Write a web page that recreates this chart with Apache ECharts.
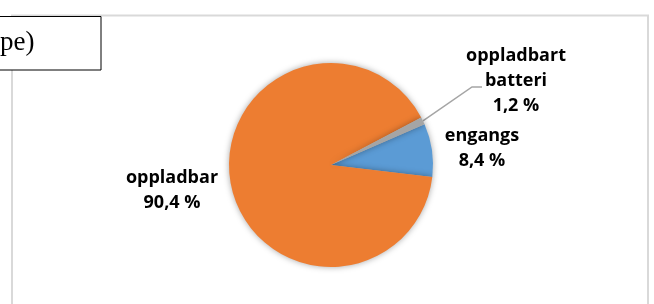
<!DOCTYPE html>
<html>
<head>
<meta charset="utf-8">
<script src="https://cdn.jsdelivr.net/npm/echarts@6/dist/echarts.min.js"></script>
<style>
html,body{margin:0;padding:0;background:#fff;}
#chart{width:654px;height:304px;}
</style>
</head>
<body>
<div id="chart"></div>
<script>
// Data
const categories = ['engangs', 'oppladbar', 'oppladbart batteri'];
const values = [8.4, 90.4, 1.2];
const labelTexts = ['engangs', 'oppladbar', 'oppladbart\nbatteri'];
const colors = ['#5B9BD5', '#ED7D31', '#A5A5A5'];
const titleFragment = 'pe)';

function fmt(v) { return v.toFixed(1).replace('.', ',') + ' %'; }

const labelPos = [
  { x: 482, y: 148 },
  { x: 172, y: 190 },
  { x: 516, y: 81 }
];

const chart = echarts.init(document.getElementById('chart'), null, { renderer: 'canvas' });
chart.setOption({
  animation: false,
  graphic: [
    { type: 'rect', z: 0, shape: { x: 12, y: 15.5, width: 636, height: 320 },
      style: { fill: '#fff', stroke: '#d9d9d9', lineWidth: 2 } },
    { type: 'rect', z: 10, shape: { x: -1, y: 16.5, width: 102, height: 53.5 },
      style: { fill: '#fff', stroke: '#000', lineWidth: 1 } },
    { type: 'text', z: 11, style: { text: titleFragment, x: 0, y: 43, fill: '#000',
      font: '27px "Liberation Serif", "Times New Roman", serif', align: 'left', verticalAlign: 'middle' } }
  ],
  series: [{
    type: 'pie',
    center: [331, 165],
    radius: 102,
    startAngle: 23.5,
    clockwise: true,
    z: 5,
    itemStyle: { shadowBlur: 6, shadowColor: 'rgba(0,0,0,0.35)', shadowOffsetX: 0, shadowOffsetY: 0 },
    label: {
      show: true,
      position: 'outside',
      color: '#000',
      fontFamily: '"Open Sans", sans-serif',
      fontWeight: 'bold',
      fontSize: 18,
      lineHeight: 25,
      align: 'center',
      formatter: p => labelTexts[p.dataIndex] + '\n' + fmt(p.value)
    },
    labelLine: { show: false },
    labelLayout: function (params) {
      const i = params.dataIndex;
      const o = { x: labelPos[i].x, y: labelPos[i].y, align: 'center', verticalAlign: 'middle' };
      if (i === 2 && params.labelLinePoints) {
        o.labelLinePoints = [params.labelLinePoints[0], [472, 87], [482, 87]];
      }
      return o;
    },
    emphasis: { disabled: true },
    data: categories.map((c, i) => ({
      name: c,
      value: values[i],
      itemStyle: { color: colors[i] },
      labelLine: i === 2 ? { show: true, lineStyle: { color: '#A5A5A5', width: 1.5 } } : { show: false }
    }))
  }]
});
</script>
</body>
</html>
